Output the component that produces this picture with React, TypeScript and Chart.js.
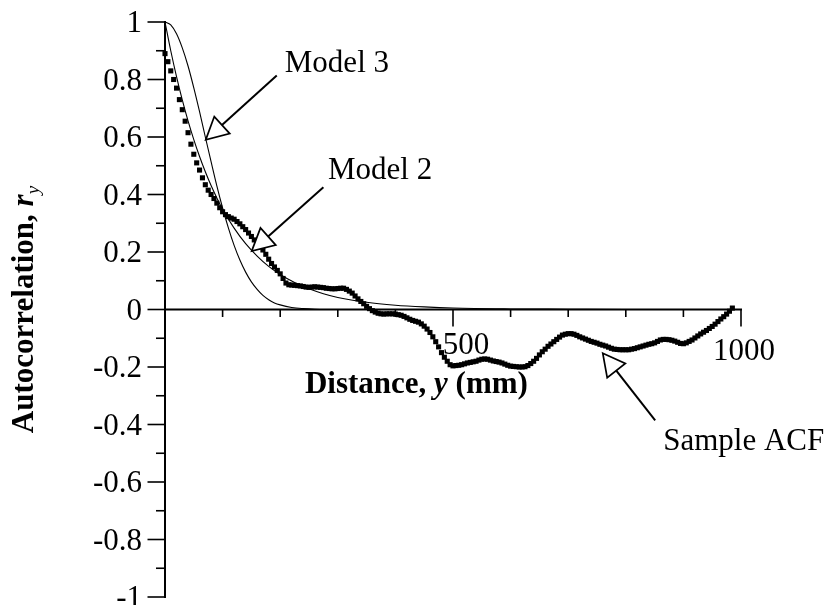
import React, { useEffect, useRef } from 'react';
import { Chart, registerables } from 'chart.js';

Chart.register(...registerables);

// ---------------- DATA ----------------
// Sample ACF, one value every 5 mm of lag starting at 0 mm
const SAMPLE_LAG_STEP_MM = 5;
const sampleACF = [
  0.890, 0.862, 0.830, 0.800, 0.770, 0.730, 0.695, 0.655, 0.615, 0.575,
  0.540, 0.510, 0.485, 0.458, 0.434, 0.415, 0.400, 0.386, 0.370, 0.354,
  0.340, 0.330, 0.323, 0.318, 0.314, 0.306, 0.298, 0.288, 0.278, 0.266,
  0.254, 0.242, 0.230, 0.218, 0.207, 0.192, 0.175, 0.160, 0.148, 0.136,
  0.124, 0.108, 0.092, 0.086, 0.085, 0.084, 0.083, 0.082, 0.080, 0.078,
  0.077, 0.078, 0.079, 0.078, 0.077, 0.076, 0.074, 0.073, 0.072, 0.072,
  0.073, 0.074, 0.074, 0.070, 0.064, 0.057, 0.047, 0.037, 0.028, 0.020,
  0.011, 0.003, -0.004, -0.009, -0.013, -0.015, -0.016, -0.015, -0.015, -0.015,
  -0.016, -0.018, -0.020, -0.024, -0.029, -0.034, -0.038, -0.041, -0.044, -0.050,
  -0.058, -0.068, -0.080, -0.095, -0.112, -0.130, -0.150, -0.166, -0.180, -0.192,
  -0.196, -0.195, -0.194, -0.192, -0.189, -0.186, -0.184, -0.182, -0.180, -0.176,
  -0.173, -0.172, -0.173, -0.176, -0.179, -0.181, -0.183, -0.186, -0.190, -0.194,
  -0.197, -0.198, -0.199, -0.200, -0.200, -0.199, -0.195, -0.188, -0.180, -0.170,
  -0.158, -0.147, -0.138, -0.128, -0.120, -0.112, -0.104, -0.096, -0.089, -0.086,
  -0.084, -0.084, -0.086, -0.090, -0.095, -0.099, -0.103, -0.107, -0.111, -0.114,
  -0.117, -0.121, -0.124, -0.127, -0.131, -0.135, -0.138, -0.139, -0.140, -0.140,
  -0.140, -0.140, -0.138, -0.136, -0.133, -0.130, -0.127, -0.124, -0.121, -0.119,
  -0.116, -0.111, -0.106, -0.104, -0.104, -0.105, -0.107, -0.110, -0.114, -0.118,
  -0.119, -0.116, -0.111, -0.106, -0.099, -0.092, -0.085, -0.079, -0.073, -0.066,
  -0.059, -0.051, -0.042, -0.033, -0.025, -0.016, -0.006, 0.005,
];

const model2Distance = [0, 10, 20, 30, 40, 50, 60, 70, 80, 90, 100, 120, 140, 160, 180, 200, 225, 250, 275, 300, 350, 400, 450, 500, 600, 700, 800, 1000];
const model2Values = [1.0, 0.9, 0.81, 0.729, 0.656, 0.591, 0.532, 0.479, 0.431, 0.388, 0.349, 0.283, 0.229, 0.186, 0.15, 0.122, 0.094, 0.072, 0.055, 0.042, 0.025, 0.015, 0.009, 0.005, 0.002, 0.001, 0.0, 0.0];

const model3Distance = [0, 10, 20, 30, 40, 50, 60, 70, 80, 90, 100, 110, 120, 130, 140, 150, 160, 170, 180, 190, 200, 220, 240, 260, 300, 400, 600, 1000];
const model3Values = [1.0, 0.99, 0.959, 0.91, 0.847, 0.771, 0.688, 0.6, 0.514, 0.43, 0.353, 0.284, 0.223, 0.172, 0.13, 0.096, 0.07, 0.049, 0.034, 0.023, 0.016, 0.007, 0.003, 0.001, 0.0, 0.0, 0.0, 0.0];

const xMinorTicks = [100, 200, 300, 400, 600, 700, 800, 900];
const xMajorTicks = [500, 1000];
const xTickLabels = ['500', '1000'];
const yMajorTicks = [1, 0.8, 0.6, 0.4, 0.2, 0, -0.2, -0.4, -0.6, -0.8, -1];
const yTickLabels = ['1', '0.8', '0.6', '0.4', '0.2', '0', '-0.2', '-0.4', '-0.6', '-0.8', '-1'];
const yMinorTicks = [0.9, 0.7, 0.5, 0.3, 0.1, -0.1, -0.3, -0.5, -0.7, -0.9];

// Annotations (anchored in data coordinates)
const annotationLabels = ['Model 3', 'Model 2', 'Sample ACF'];
const annotationTextAt = [
  { x: 208, y: 0.825 },
  { x: 283, y: 0.455 },
  { x: 865, y: -0.49 },
];
const annotationArrowTail = [
  { x: 194, y: 0.814 },
  { x: 275, y: 0.425 },
  { x: 851, y: -0.386 },
];
const annotationArrowTip = [
  { x: 70.7, y: 0.59 },
  { x: 150.5, y: 0.203 },
  { x: 760, y: -0.152 },
];

// ---------------- LAYOUT / STYLE ----------------
const W = 827;
const H = 605;
const FONT_FAMILY = '"Liberation Serif", "Times New Roman", Times, serif';
const FONT_SIZE = 31;
const xLabelOffsets = [
  { dx: 13, dy: 44 },
  { dx: 3, dy: 50 },
];
const X_TITLE_AT = { x: 243, y: -0.29 };
const Y_TITLE_BASELINE_X = 33;
const Y_TITLE_START_Y = -0.43;

function drawArrow(ctx: CanvasRenderingContext2D, tx: number, ty: number, hx: number, hy: number) {
  const dx = hx - tx;
  const dy = hy - ty;
  const len = Math.hypot(dx, dy);
  const ux = dx / len;
  const uy = dy / len;
  const L = 22;
  const HW = 11.5;
  const bx = hx - ux * L;
  const by = hy - uy * L;
  ctx.strokeStyle = '#000';
  ctx.lineWidth = 2;
  ctx.beginPath();
  ctx.moveTo(tx, ty);
  ctx.lineTo(bx, by);
  ctx.stroke();
  ctx.beginPath();
  ctx.moveTo(hx, hy);
  ctx.lineTo(bx - uy * HW, by + ux * HW);
  ctx.lineTo(bx + uy * HW, by - ux * HW);
  ctx.closePath();
  ctx.fillStyle = '#fff';
  ctx.fill();
  ctx.lineWidth = 1.7;
  ctx.lineJoin = 'miter';
  ctx.stroke();
}

const axesPlugin = {
  id: 'acfAxes',
  beforeDatasetsDraw(chart: any) {
    const { ctx } = chart;
    const xs = chart.scales.x;
    const ys = chart.scales.y;
    const x0 = xs.getPixelForValue(0);
    const y0 = ys.getPixelForValue(0);
    ctx.save();
    ctx.strokeStyle = '#000';
    ctx.fillStyle = '#000';
    ctx.lineCap = 'butt';
    // axis lines
    ctx.lineWidth = 2;
    ctx.beginPath();
    ctx.moveTo(x0, ys.getPixelForValue(1) - 1);
    ctx.lineTo(x0, ys.getPixelForValue(-1) + 1);
    ctx.stroke();
    ctx.beginPath();
    ctx.moveTo(x0, y0);
    ctx.lineTo(xs.getPixelForValue(1000) + 1, y0);
    ctx.stroke();
    // y ticks
    ctx.lineWidth = 1.6;
    yMajorTicks.forEach((v) => {
      const p = ys.getPixelForValue(v);
      ctx.beginPath();
      ctx.moveTo(x0 - 17.5, p);
      ctx.lineTo(x0, p);
      ctx.stroke();
    });
    yMinorTicks.forEach((v) => {
      const p = ys.getPixelForValue(v);
      ctx.beginPath();
      ctx.moveTo(x0 - 9, p);
      ctx.lineTo(x0, p);
      ctx.stroke();
    });
    // x ticks
    xMajorTicks.forEach((v) => {
      const p = xs.getPixelForValue(v);
      ctx.beginPath();
      ctx.moveTo(p, y0);
      ctx.lineTo(p, y0 + 17);
      ctx.stroke();
    });
    xMinorTicks.forEach((v) => {
      const p = xs.getPixelForValue(v);
      ctx.beginPath();
      ctx.moveTo(p, y0);
      ctx.lineTo(p, y0 + 7.5);
      ctx.stroke();
    });
    // tick labels
    ctx.font = `${FONT_SIZE}px ${FONT_FAMILY}`;
    ctx.textBaseline = 'alphabetic';
    ctx.textAlign = 'right';
    yMajorTicks.forEach((v, i) => {
      const p = ys.getPixelForValue(v);
      ctx.fillText(yTickLabels[i], x0 - 23, p + 10);
    });
    ctx.textAlign = 'center';
    xMajorTicks.forEach((v, i) => {
      const p = xs.getPixelForValue(v);
      ctx.fillText(xTickLabels[i], p + xLabelOffsets[i].dx, y0 + xLabelOffsets[i].dy);
    });

    // x title: "Distance, y (mm)"
    const tx0 = xs.getPixelForValue(X_TITLE_AT.x);
    const ty0 = ys.getPixelForValue(X_TITLE_AT.y);
    ctx.textAlign = 'left';
    const parts: [string, string][] = [
      ['Distance, ', `bold ${FONT_SIZE}px ${FONT_FAMILY}`],
      ['y', `italic bold ${FONT_SIZE}px ${FONT_FAMILY}`],
      [' (mm)', `bold ${FONT_SIZE}px ${FONT_FAMILY}`],
    ];
    let cx = tx0;
    parts.forEach(([t, f]) => {
      ctx.font = f;
      ctx.fillText(t, cx, ty0);
      cx += ctx.measureText(t).width;
    });

    // y title: "Autocorrelation, r_y" rotated
    ctx.save();
    ctx.translate(Y_TITLE_BASELINE_X, ys.getPixelForValue(Y_TITLE_START_Y));
    ctx.rotate(-Math.PI / 2);
    let cy = 0;
    ctx.font = `bold ${FONT_SIZE}px ${FONT_FAMILY}`;
    ctx.fillText('Autocorrelation, ', cy, 0);
    cy += ctx.measureText('Autocorrelation, ').width;
    ctx.font = `italic bold ${FONT_SIZE}px ${FONT_FAMILY}`;
    ctx.fillText('r', cy, 0);
    cy += ctx.measureText('r').width;
    ctx.font = `italic ${Math.round(FONT_SIZE * 0.62)}px ${FONT_FAMILY}`;
    ctx.fillText('y', cy, 6);
    ctx.restore();
    ctx.restore();
  },
  afterDatasetsDraw(chart: any) {
    const { ctx } = chart;
    const xs = chart.scales.x;
    const ys = chart.scales.y;
    ctx.save();
    annotationLabels.forEach((label, i) => {
      const tail = annotationArrowTail[i];
      const tip = annotationArrowTip[i];
      drawArrow(
        ctx,
        xs.getPixelForValue(tail.x),
        ys.getPixelForValue(tail.y),
        xs.getPixelForValue(tip.x),
        ys.getPixelForValue(tip.y)
      );
      ctx.font = `${FONT_SIZE}px ${FONT_FAMILY}`;
      ctx.fillStyle = '#000';
      ctx.textAlign = 'left';
      ctx.textBaseline = 'alphabetic';
      const at = annotationTextAt[i];
      ctx.fillText(label, xs.getPixelForValue(at.x), ys.getPixelForValue(at.y));
    });
    ctx.restore();
  },
};

export default function App() {
  const canvasRef = useRef<HTMLCanvasElement | null>(null);

  useEffect(() => {
    if (!canvasRef.current) return;
    const samplePoints = sampleACF.map((v, i) => ({ x: i * SAMPLE_LAG_STEP_MM, y: v }));
    const model2Points = model2Distance.map((d, i) => ({ x: d, y: model2Values[i] }));
    const model3Points = model3Distance.map((d, i) => ({ x: d, y: model3Values[i] }));

    const chart = new Chart(canvasRef.current, {
      type: 'line',
      data: {
        datasets: [
          {
            label: 'Model 3',
            data: model3Points,
            borderColor: '#000',
            borderWidth: 1.1,
            pointRadius: 0,
            fill: false,
            cubicInterpolationMode: 'monotone',
            clip: false,
          },
          {
            label: 'Model 2',
            data: model2Points,
            borderColor: '#000',
            borderWidth: 1.1,
            pointRadius: 0,
            fill: false,
            cubicInterpolationMode: 'monotone',
            clip: false,
          },
          {
            label: 'Sample ACF',
            data: samplePoints,
            showLine: false,
            pointStyle: 'rect',
            pointRadius: 3.6,
            pointBackgroundColor: '#000',
            pointBorderWidth: 0,
            borderColor: '#000',
            clip: false,
          },
        ],
      } as any,
      options: {
        responsive: false,
        animation: false,
        events: [],
        layout: { padding: { left: 165, right: W - 741, top: 22, bottom: H - 597 } },
        plugins: { legend: { display: false }, tooltip: { enabled: false } },
        scales: {
          x: { type: 'linear', min: 0, max: 1000, display: false },
          y: { type: 'linear', min: -1, max: 1, display: false },
        },
      } as any,
      plugins: [axesPlugin],
    });
    return () => chart.destroy();
  }, []);

  return (
    <div style={{ position: 'fixed', left: 0, top: 0, width: W, height: H, background: '#fff' }}>
      <canvas ref={canvasRef} width={W} height={H} style={{ display: 'block', width: W, height: H }} />
    </div>
  );
}
